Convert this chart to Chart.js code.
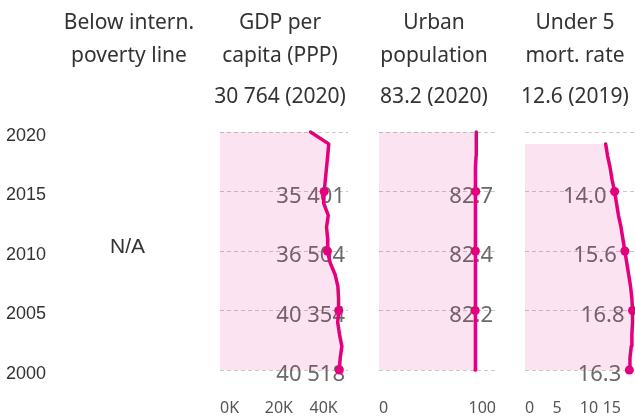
<!DOCTYPE html>
<html>
<head>
<meta charset="utf-8">
<script src="https://cdn.jsdelivr.net/npm/chart.js@4.4.0/dist/chart.umd.min.js"></script>
<style>
  body { margin: 0; background: #fff; }
  #wrap { position: relative; width: 635px; height: 418px; overflow: hidden; }
  #wrap canvas { position: absolute; top: 0; }
  .head { position: absolute; width: 170px; text-align: center; font-family: "Noto Sans"; font-size: 21px; line-height: 33px; color: #333; white-space: nowrap; }
  .na { position: absolute; left: 110px; top: 234px; font-family: "Liberation Sans", Arial; font-size: 21px; line-height: 24px; color: #333; }
</style>
</head>
<body>
<div id="wrap">
  <canvas id="cGdp" width="348" height="418" style="left:0px"></canvas>
  <canvas id="cUrban" width="117" height="418" style="left:379px"></canvas>
  <canvas id="cU5" width="128" height="418" style="left:525px"></canvas>
  <div class="na">N/A</div>
</div>
<script>
// headers
const titles = [["Below intern.", "poverty line"], ["GDP per", "capita (PPP)"], ["Urban", "population"], ["Under 5", "mort. rate"]];
const latest = ["", "30 764 (2020)", "83.2 (2020)", "12.6 (2019)"];
const titleCenters = [129, 280, 434, 575];

// data
const years = [2000, 2001, 2002, 2003, 2004, 2005, 2006, 2007, 2008, 2009, 2010,
               2011, 2012, 2013, 2014, 2015, 2016, 2017, 2018, 2019, 2020];
const gdp = [40518, 40850, 41400, 40600, 40000, 40354, 40290, 40070, 39150, 37450, 36504,
             36600, 36200, 36800, 35250, 35401, 35800, 36200, 36600, 36950, 30764];
const urban = [82.1, 82.1, 82.2, 82.2, 82.2, 82.2, 82.3, 82.3, 82.3, 82.4, 82.4,
               82.4, 82.5, 82.6, 82.6, 82.7, 82.8, 82.9, 83.0, 83.1, 83.2];
const u5 = [16.3, 16.4, 16.6, 16.7, 16.8, 16.8, 16.7, 16.5, 16.2, 15.9, 15.6,
            15.3, 15.0, 14.6, 14.3, 14.0, 13.6, 13.3, 12.9, 12.6];
const gdpMarks = [2000, 2005, 2010, 2015];
const urbanMarks = [2005, 2010, 2015];
const u5Marks = [2000, 2005, 2010, 2015];
const gdpTicks = [0, 20000, 40000];
const urbanTicks = [0, 100];
const u5Ticks = [0, 5, 10, 15];

const PINK = '#e4007c';
const FILL = 'rgba(228,0,124,0.11)';

const wrap = document.getElementById('wrap');
titles.forEach((t, i) => {
  const d = document.createElement('div');
  d.className = 'head';
  d.style.left = (titleCenters[i] - 85) + 'px';
  d.style.top = '5px';
  d.innerHTML = t.join('<br>');
  wrap.appendChild(d);
  if (latest[i]) {
    const s = document.createElement('div');
    s.className = 'head';
    s.style.left = (titleCenters[i] - 85) + 'px';
    s.style.top = '79px';
    s.textContent = latest[i];
    wrap.appendChild(s);
  }
});

// labels for the marked years, drawn under the line
const valueLabels = {
  id: 'valueLabels',
  beforeDatasetsDraw(chart, args, opts) {
    const ctx = chart.ctx;
    const meta = chart.getDatasetMeta(0);
    const ds = chart.data.datasets[0];
    ctx.save();
    ctx.font = '22px "Noto Sans"';
    ctx.fillStyle = '#6a6a6a';
    ctx.textAlign = 'right';
    ctx.textBaseline = 'alphabetic';
    ds.data.forEach((p, i) => {
      if (!opts.marks.includes(p.y)) return;
      const el = meta.data[i];
      const x = opts.atPoint ? el.x - 8 : chart.chartArea.right - 3;
      ctx.fillText(opts.fmt(p.x), x, el.y + 11);
    });
    ctx.restore();
  }
};

function makePanel(id, vals, marks, max, ticks, tickFmt, labelFmt, atPoint, showYears) {
  const pts = vals.map((v, i) => ({ x: v, y: years[i] }));
  return new Chart(document.getElementById(id), {
    type: 'line',
    data: {
      datasets: [{
        data: pts,
        borderColor: PINK,
        borderWidth: 3.5,
        borderJoinStyle: 'round',
        borderCapStyle: 'round',
        backgroundColor: FILL,
        fill: 'origin',
        tension: 0,
        clip: false,
        pointRadius: ctx => marks.includes(ctx.raw.y) ? 4.5 : 0,
        pointBackgroundColor: PINK,
        pointBorderWidth: 0
      }]
    },
    options: {
      indexAxis: 'y',
      responsive: false,
      animation: false,
      layout: { autoPadding: false, padding: { top: 132, left: showYears ? 6 : 0, right: 0, bottom: 0 } },
      plugins: {
        legend: { display: false },
        tooltip: { enabled: false },
        valueLabels: { fmt: labelFmt, atPoint: atPoint, marks: marks }
      },
      scales: {
        x: {
          type: 'linear',
          min: 0,
          max: max,
          afterBuildTicks: s => { s.ticks = ticks.map(v => ({ value: v })); },
          afterFit: s => { s.height = 48; },
          grid: { display: true, drawOnChartArea: false, drawTicks: true, tickLength: 29, tickColor: 'rgba(0,0,0,0)' },
          border: { display: false },
          ticks: {
            align: 'inner',
            padding: 0,
            color: '#555',
            font: { family: 'Noto Sans', size: 16 },
            callback: tickFmt
          }
        },
        y: {
          type: 'linear',
          min: 2000,
          max: 2020,
          afterFit: s => { s.width = showYears ? 214 : 0; },
          grid: { color: '#c8c8c8', lineWidth: 1, drawTicks: false },
          border: { display: false, dash: [4, 3] },
          ticks: {
            display: showYears,
            stepSize: 5,
            padding: 0,
            crossAlign: 'far',
            labelOffset: 4,
            color: '#333',
            font: { family: 'Liberation Sans', size: 18 },
            callback: v => String(v)
          }
        }
      }
    },
    plugins: [valueLabels]
  });
}

const fmtThousands = v => Math.round(v).toString().replace(/\B(?=(\d{3})+(?!\d))/g, ' ');

makePanel('cGdp', gdp, gdpMarks, 43500, gdpTicks, v => (v / 1000) + 'K', fmtThousands, false, true);
makePanel('cUrban', urban, urbanMarks, 100, urbanTicks, v => String(v), v => v.toFixed(1), false, false);
makePanel('cU5', u5, u5Marks, 20, u5Ticks, v => String(v), v => v.toFixed(1), true, false);
</script>
</body>
</html>
